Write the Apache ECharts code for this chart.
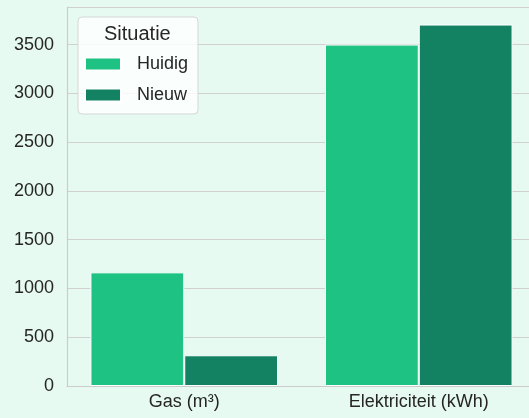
<!DOCTYPE html>
<html>
<head>
<meta charset="utf-8">
<script src="https://cdn.jsdelivr.net/npm/echarts@6/dist/echarts.min.js"></script>
<style>
html,body{margin:0;padding:0;background:#e6faf2;overflow:hidden;width:529px;height:418px;}
#c{width:536px;height:418px;}
</style>
</head>
<body>
<div id="c"></div>
<script>
const categories = ['Gas (m³)', 'Elektriciteit (kWh)'];
const huidig = [1165, 3500];
const nieuw = [315, 3705];
const seriesNames = ['Huidig', 'Nieuw'];
const legendTitle = 'Situatie';

const chart = echarts.init(document.getElementById('c'), null, {renderer: 'canvas'});
const font = 'Liberation Sans, Arial, sans-serif';
chart.setOption({
  backgroundColor: '#e6faf2',
  animation: false,
  grid: {left: 67, top: 7, bottom: 32, right: 0, containLabel: false, outerBoundsMode: 'none'},
  xAxis: {
    type: 'category',
    data: categories,
    axisLine: {show: true, lineStyle: {color: '#cccccc', width: 1.2}},
    axisTick: {show: false},
    axisLabel: {color: '#262626', fontSize: 18, fontFamily: font, margin: 7}
  },
  yAxis: {
    type: 'value',
    min: 0,
    max: 3885,
    interval: 500,
    axisLine: {show: true, lineStyle: {color: '#cccccc', width: 1.2}},
    axisTick: {show: false},
    splitLine: {show: true, lineStyle: {color: '#d0d0d0', width: 1}},
    axisLabel: {
      color: '#262626', fontSize: 18, fontFamily: font, margin: 13,
      formatter: v => (v % 500 === 0 ? String(v) : '')
    }
  },
  legend: {
    orient: 'vertical',
    left: 78,
    top: 17,
    padding: [38, 10, 10, 6],
    itemWidth: 36,
    itemHeight: 13,
    itemGap: 13,
    icon: 'rect',
    backgroundColor: 'rgba(255,255,255,0.8)',
    borderColor: '#d6d6d6',
    borderWidth: 1,
    borderRadius: 4,
    textStyle: {color: '#262626', fontSize: 18, fontFamily: font, lineHeight: 13, padding: [0, 0, 0, 11]},
    data: seriesNames
  },
  graphic: [{
    type: 'text',
    left: 104,
    top: 24,
    z: 100,
    style: {text: legendTitle, fill: '#262626', font: '20px ' + font}
  }],
  series: [
    {
      name: seriesNames[0], type: 'bar', data: huidig,
      barGap: '0%', barCategoryGap: '20%',
      itemStyle: {color: '#1ec283', borderColor: '#ffffff', borderWidth: 1}
    },
    {
      name: seriesNames[1], type: 'bar', data: nieuw,
      itemStyle: {color: '#138262', borderColor: '#ffffff', borderWidth: 1}
    }
  ]
});
</script>
</body>
</html>
